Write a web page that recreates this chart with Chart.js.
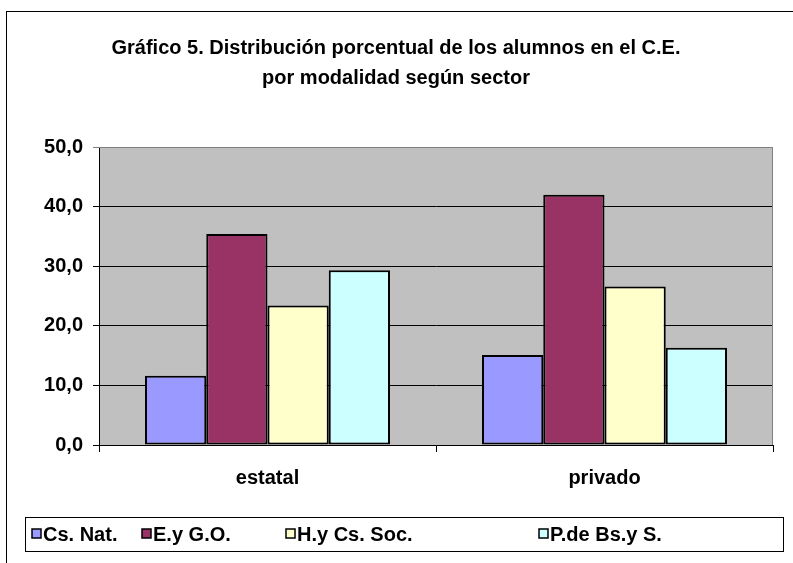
<!DOCTYPE html>
<html>
<head>
<meta charset="utf-8">
<script src="https://cdn.jsdelivr.net/npm/chart.js@4"></script>
<style>
  html, body { margin: 0; padding: 0; background: #fff; }
  #wrap { width: 793px; height: 563px; }
</style>
</head>
<body>
<div id="wrap"><canvas id="grafico5" width="793" height="563"></canvas></div>
<script>
// Datos
const sectores = ['estatal', 'privado'];
const modalidades = ['Cs. Nat.', 'E.y G.O.', 'H.y Cs. Soc.', 'P.de Bs.y S.'];
const csNat = [11.6, 15.1];
const eyGO = [35.4, 42.0];
const hyCsSoc = [23.4, 26.6];
const pdeBsyS = [29.3, 16.3];
const ticksY = [0, 10, 20, 30, 40, 50];

const colores = ['#9999FF', '#993366', '#FFFFCC', '#CCFFFF'];
const titulo = ['Gráfico 5. Distribución porcentual de los alumnos en el C.E.', 'por modalidad según sector'];
const FUENTE = '"Liberation Sans", Arial, sans-serif';

// posiciones de la leyenda (x de cada cuadrito)
const leyendaX = [32, 142, 286, 539];

const series = [csNat, eyGO, hyCsSoc, pdeBsyS];

/**
 * Fondo, marco, titulo y leyenda
 */
const decoracion = {
    id: 'decoracion',
    beforeDraw(chart) {
        const ctx = chart.ctx;
        const a = chart.chartArea;
        ctx.save();
        ctx.fillStyle = '#fff';
        ctx.fillRect(0, 0, chart.width, chart.height);
        // marco exterior
        ctx.strokeStyle = '#000';
        ctx.lineWidth = 1;
        ctx.strokeRect(6.5, 11.5, 900, 900);
        // area de trazado
        ctx.fillStyle = '#C0C0C0';
        ctx.fillRect(a.left, a.top, a.right - a.left, a.bottom - a.top);
        ctx.restore();
    },
    afterDraw(chart) {
        const ctx = chart.ctx;
        const a = chart.chartArea;
        ctx.save();
        // borde gris del area
        ctx.strokeStyle = '#808080';
        ctx.lineWidth = 1;
        ctx.beginPath();
        ctx.moveTo(a.left, a.top + 0.5);
        ctx.lineTo(a.right - 0.5, a.top + 0.5);
        ctx.lineTo(a.right - 0.5, a.bottom);
        ctx.stroke();

        // titulo
        ctx.fillStyle = '#000';
        ctx.font = 'bold 20px ' + FUENTE;
        ctx.textAlign = 'center';
        ctx.textBaseline = 'middle';
        ctx.fillText(titulo[0], 396, 48);
        ctx.fillText(titulo[1], 396, 78);

        // leyenda
        ctx.strokeStyle = '#000';
        ctx.strokeRect(25.5, 517.5, 758, 34);
        ctx.font = 'bold 20px ' + FUENTE;
        ctx.textAlign = 'left';
        chart.data.datasets.forEach((ds, i) => {
            const x = leyendaX[i];
            ctx.fillStyle = ds.backgroundColor;
            ctx.fillRect(x, 529, 9, 9);
            ctx.strokeStyle = '#000';
            ctx.lineWidth = 1.5;
            ctx.strokeRect(x, 529, 9, 9);
            ctx.fillStyle = '#000';
            ctx.fillText(ds.label, x + 11, 535);
        });
        ctx.restore();
    }
};

new Chart(document.getElementById('grafico5'), {
    type: 'bar',
    data: {
        labels: sectores,
        datasets: modalidades.map((m, i) => ({
            label: m,
            data: series[i],
            backgroundColor: colores[i],
            borderColor: '#000',
            borderWidth: 2,
            borderSkipped: false,
            barPercentage: 1,
            categoryPercentage: 0.727
        }))
    },
    options: {
        responsive: false,
        animation: false,
        devicePixelRatio: 1,
        layout: {
            padding: { left: 0, top: 147, right: 20, bottom: 0 }
        },
        plugins: {
            legend: { display: false },
            title: { display: false },
            tooltip: { enabled: false }
        },
        scales: {
            x: {
                offset: true,
                grid: {
                    offset: true,
                    drawOnChartArea: false,
                    drawTicks: true,
                    tickLength: 7,
                    color: '#000'
                },
                border: { color: '#000', width: 1 },
                ticks: {
                    color: '#000',
                    padding: 14,
                    font: { family: FUENTE, size: 20, weight: 'bold' }
                },
                afterFit(scale) { scale.height = 118; }
            },
            y: {
                min: 0,
                max: 50,
                afterBuildTicks(scale) {
                    scale.ticks = ticksY.map(v => ({ value: v }));
                },
                grid: {
                    color: ctx => (ctx.tick && ctx.tick.value === 50) ? '#808080' : '#000',
                    tickLength: 6,
                    drawTicks: true
                },
                border: { color: '#000', width: 1 },
                ticks: {
                    color: '#000',
                    padding: 10,
                    font: { family: FUENTE, size: 20, weight: 'bold' },
                    callback: v => v.toFixed(1).replace('.', ',')
                },
                afterFit(scale) { scale.width = 99; }
            }
        }
    },
    plugins: [decoracion]
});
</script>
</body>
</html>
